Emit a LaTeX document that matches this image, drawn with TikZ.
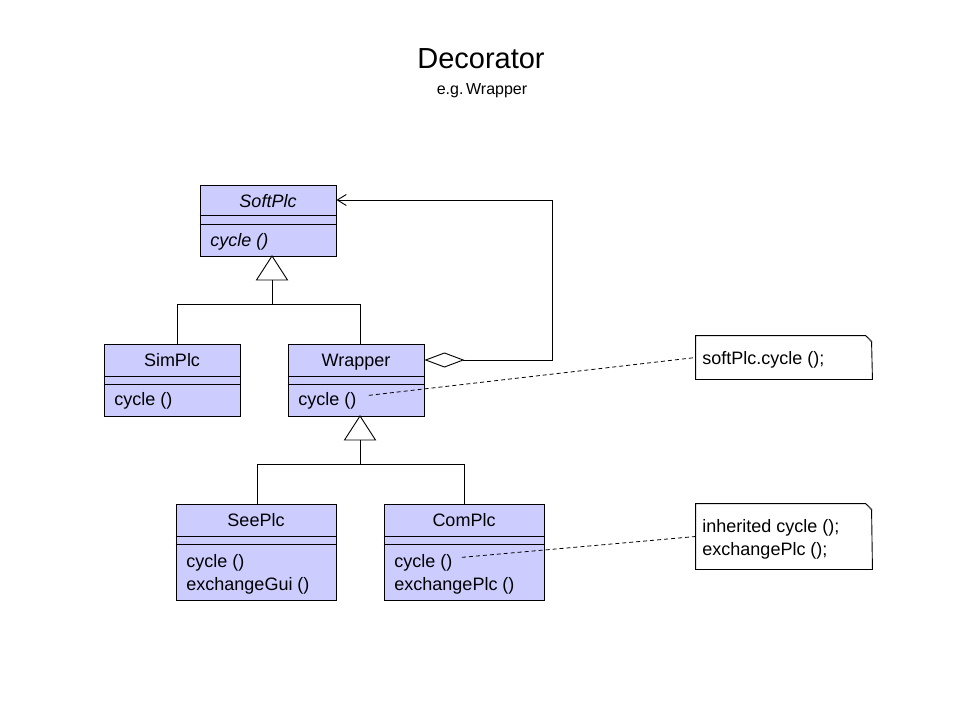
\documentclass[tikz,border=0pt]{standalone}
\usepackage{fontspec}
\setmainfont{Liberation Sans}
\usetikzlibrary{arrows.meta}
\definecolor{classfill}{RGB}{204,204,255}
\begin{document}
\begin{tikzpicture}[x=1pt,y=-1pt, line width=0.9pt,
  classbox/.style={draw=black, fill=classfill, rectangle, inner sep=0pt},
  notebox/.style={rectangle, inner sep=0pt, draw=none},
  cname/.style={font=\fontsize{18}{21}\selectfont, inner sep=0pt, anchor=base},
  optext/.style={font=\fontsize{18}{21}\selectfont, inner sep=0pt, anchor=base west},
  conn/.style={draw=black, line width=0.9pt},
  gentri/.style={draw=black, fill=white, line width=0.9pt},
  dashline/.style={draw=black, line width=0.8pt, dash pattern=on 4pt off 3pt},
]
\useasboundingbox (0,0) rectangle (960,720);
\fill[white] (0,0) rectangle (960,720);

% title
\node[font=\fontsize{29}{32}\selectfont, inner sep=0pt, anchor=base] (title) at (481,68) {Decorator};
\node[font=\fontsize{16}{19}\selectfont, inner sep=0pt, anchor=base] (subtitle) at (482,94) {e.g.\,Wrapper};

% ---------- SoftPlc
\node[classbox, minimum width=136pt, minimum height=71pt] (softplc) at (268,220.5) {};
\draw (softplc.west |- 0,215) -- (softplc.east |- 0,215);
\draw (softplc.west |- 0,224) -- (softplc.east |- 0,224);
\node[cname, font=\fontsize{18}{21}\selectfont\itshape] (softplcname) at (268,207) {SoftPlc};
\node[optext, font=\fontsize{18}{21}\selectfont\itshape] (softplcop) at (210,246) {cycle ()};

% ---------- SimPlc
\node[classbox, minimum width=136pt, minimum height=72pt] (simplc) at (172,380) {};
\draw (simplc.west |- 0,376) -- (simplc.east |- 0,376);
\draw (simplc.west |- 0,384) -- (simplc.east |- 0,384);
\node[cname] (simplcname) at (172,366) {SimPlc};
\node[optext] (simplcop) at (114,405) {cycle ()};

% ---------- Wrapper
\node[classbox, minimum width=136pt, minimum height=72pt] (wrapper) at (356,380) {};
\draw (wrapper.west |- 0,376) -- (wrapper.east |- 0,376);
\draw (wrapper.west |- 0,384) -- (wrapper.east |- 0,384);
\node[cname] (wrappername) at (356,366) {Wrapper};
\node[optext] (wrapperop) at (298,405) {cycle ()};

% ---------- SeePlc
\node[classbox, minimum width=160pt, minimum height=96pt] (seeplc) at (256,552) {};
\draw (seeplc.west |- 0,536) -- (seeplc.east |- 0,536);
\draw (seeplc.west |- 0,544) -- (seeplc.east |- 0,544);
\node[cname] (seeplcname) at (256,526) {SeePlc};
\node[optext] (seeplcop1) at (186,567) {cycle ()};
\node[optext] (seeplcop2) at (186,590) {exchangeGui ()};

% ---------- ComPlc
\node[classbox, minimum width=160pt, minimum height=96pt] (complc) at (464,552) {};
\draw (complc.west |- 0,536) -- (complc.east |- 0,536);
\draw (complc.west |- 0,544) -- (complc.east |- 0,544);
\node[cname] (complcname) at (464,526) {ComPlc};
\node[optext] (complcop1) at (394,567) {cycle ()};
\node[optext] (complcop2) at (394,590) {exchangePlc ()};

% ---------- notes
\node[notebox, minimum width=176pt, minimum height=43pt] (note1) at (784,357.5) {};
\draw (note1.north west) -- ++(170,0) -- ++(6,6) -- (note1.south east) -- (note1.south west) -- cycle;
\fill[black!70] (note1.north east) ++(-6,0) -- ++(6,6) -- ++(-2,0) -- cycle;
\node[optext] (note1text) at (702,364) {softPlc.cycle ();};

\node[notebox, minimum width=176pt, minimum height=65pt] (note2) at (784,536.5) {};
\draw (note2.north west) -- ++(170,0) -- ++(6,6) -- (note2.south east) -- (note2.south west) -- cycle;
\fill[black!70] (note2.north east) ++(-6,0) -- ++(6,6) -- ++(-2,0) -- cycle;
\node[optext] (note2text1) at (702,532) {inherited cycle ();};
\node[optext] (note2text2) at (702,555) {exchangePlc ();};

% ---------- generalization SoftPlc <- SimPlc, Wrapper
\coordinate (g1) at (272,256);
\coordinate (g1bus) at (272,304);
\draw[gentri] (g1) -- ++(-15.5,24) -- ++(31,0) -- cycle;
\draw[conn] (g1) ++(0,24) -- (g1bus);
\draw[conn] (simplc.north -| 177,0) -- (177,304) -- (360,304) -- (wrapper.north -| 360,0);

% ---------- generalization Wrapper <- SeePlc, ComPlc
\coordinate (g2) at (360,416);
\coordinate (g2bus) at (360,464);
\draw[gentri] (g2) -- ++(-15.5,24) -- ++(31,0) -- cycle;
\draw[conn] (g2) ++(0,24) -- (g2bus);
\draw[conn] (seeplc.north -| 257,0) -- (257,464) -- (464,464) -- (complc.north);

% ---------- aggregation Wrapper <>-> SoftPlc
\draw[conn, {Diamond[open, fill=white, length=40pt, width=15pt, line width=0.9pt]}-{Straight Barb[length=9pt, width=11pt, line width=0.9pt]}]
  (wrapper.east |- 0,360) -- (552,360) -- (552,200) -- (softplc.east |- 0,200);

% ---------- note anchors
\draw[dashline] (wrapperop.east) ++(12,-5) -- (note1.west);
\draw[dashline] (complcop1.east) ++(9,-5) -- (note2.west);
\end{tikzpicture}
\end{document}
